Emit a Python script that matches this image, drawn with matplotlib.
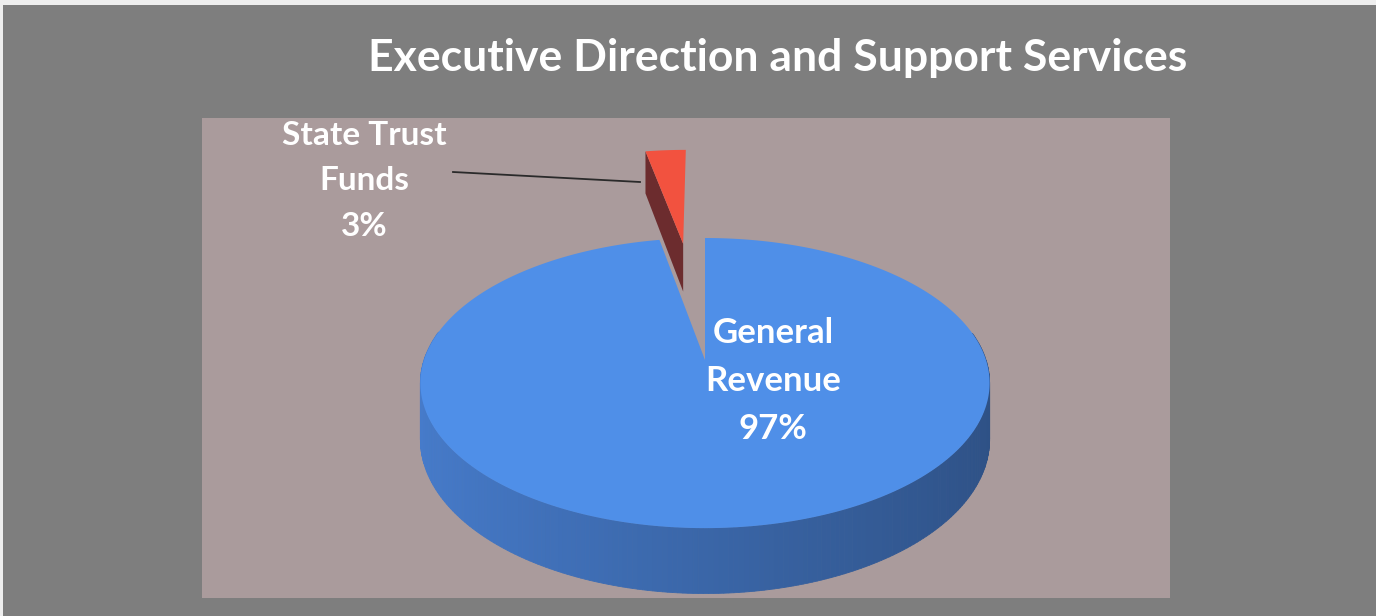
import numpy as np
import matplotlib
matplotlib.use("Agg")
import matplotlib.pyplot as plt
from matplotlib.patches import Polygon, Rectangle
from matplotlib.colors import to_rgb

# ---- data ----
title = "Executive Direction and Support Services"
labels = ["General Revenue", "State Trust Funds"]
label_text = ["General\nRevenue\n97%", "State Trust\nFunds\n3%"]
values = [97, 3]
explode = [0.0, 0.95]
top_colors = ["#4f8fe8", "#f2523f"]

# ---- layout ----
W, H = 1376, 616
fig = plt.figure(figsize=(W / 100, H / 100), dpi=100, facecolor="#eeeeee")
ax = fig.add_axes([0, 0, 1, 1])
ax.set_xlim(0, W)
ax.set_ylim(H, 0)
ax.axis("off")

ax.add_patch(Rectangle((3, 5), W, H, facecolor="#7e7e7e", edgecolor="none", zorder=0))
ax.add_patch(Rectangle((202, 118), 968, 480, facecolor="#aa9b9c", edgecolor="none", zorder=1))

fam = ["Lato", "DejaVu Sans"]
ax.text(778, 58, title, color="white", fontsize=32, fontweight="bold", family=fam,
        ha="center", va="center", zorder=10)

# perspective pie geometry
cx, cy = 705, 360
A, B, k, D = 141.4, 281, 0.159, 55


def proj(u, v, z):
    s = 1.0 / (1.0 + k * v)
    return cx + B * u * s, cy - A * v * s + D * z * s


def shade(base, u, lo=0.95, hi=0.62):
    t = (u + 1) / 2
    f = lo + (hi - lo) * t
    r, g, b = to_rgb(base)
    return (r * f, g * f, b * f)


side_base = ["#4a82d6", "#8a3434"]

# angles (degrees, CCW from +x); small slice starts at top going CCW
fr = np.array(values, dtype=float) / sum(values)
start = 90 + fr[1] * 360
spans = [(start, start + fr[0] * 360), (90, 90 + fr[1] * 360)]

order = [1, 0]  # back (exploded) slice first
for i in order:
    a0, a1 = spans[i]
    mid = np.deg2rad((a0 + a1) / 2)
    ou, ov = explode[i] * np.cos(mid), explode[i] * np.sin(mid)
    th = np.deg2rad(np.linspace(a0, a1, 400))
    us, vs = ou + np.cos(th), ov + np.sin(th)
    # outer side wall quads facing the viewer, back to front
    quads = []
    for j in range(len(th) - 1):
        if np.sin((th[j] + th[j + 1]) / 2) > 0.2:
            continue
        u0, v0, u1, v1 = us[j], vs[j], us[j + 1], vs[j + 1]
        p = [proj(u0, v0, 0), proj(u1, v1, 0), proj(u1, v1, 1), proj(u0, v0, 1)]
        quads.append(((v0 + v1) / 2, p, (np.cos(th[j]) + np.cos(th[j + 1])) / 2))
    quads.sort(key=lambda q: -q[0])
    for _, p, um in quads:
        c = shade(side_base[i], um)
        ax.add_patch(Polygon(p, closed=True, facecolor=c, edgecolor=c, lw=0.6, zorder=3))
    # radial wall on the CCW edge (a1) of the slice
    eu, ev = ou + np.cos(np.deg2rad(a1)), ov + np.sin(np.deg2rad(a1))
    wall = [proj(ou, ov, 0), proj(eu, ev, 0), proj(eu, ev, 1), proj(ou, ov, 1)]
    wc = "#6c2c2e" if i == 1 else shade(side_base[i], 0)
    ax.add_patch(Polygon(wall, closed=True, facecolor=wc, edgecolor="none", zorder=3))
    # top face
    pts = [proj(ou, ov, 0)] + [proj(u, v, 0) for u, v in zip(us, vs)]
    ax.add_patch(Polygon(pts, closed=True, facecolor=top_colors[i], edgecolor="none", zorder=4))

# labels
ax.text(773, 381, label_text[0], color="white", fontsize=25, fontweight="bold", family=fam,
        ha="center", va="center", linespacing=1.62, zorder=10)
ax.text(364, 181, label_text[1], color="white", fontsize=24, fontweight="bold", family=fam,
        ha="center", va="center", linespacing=1.68, zorder=10)
ax.plot([453, 640], [172, 182], color="#2a2a2a", lw=1.3, zorder=5)

fig.savefig("out.png", dpi=100, facecolor=fig.get_facecolor())
